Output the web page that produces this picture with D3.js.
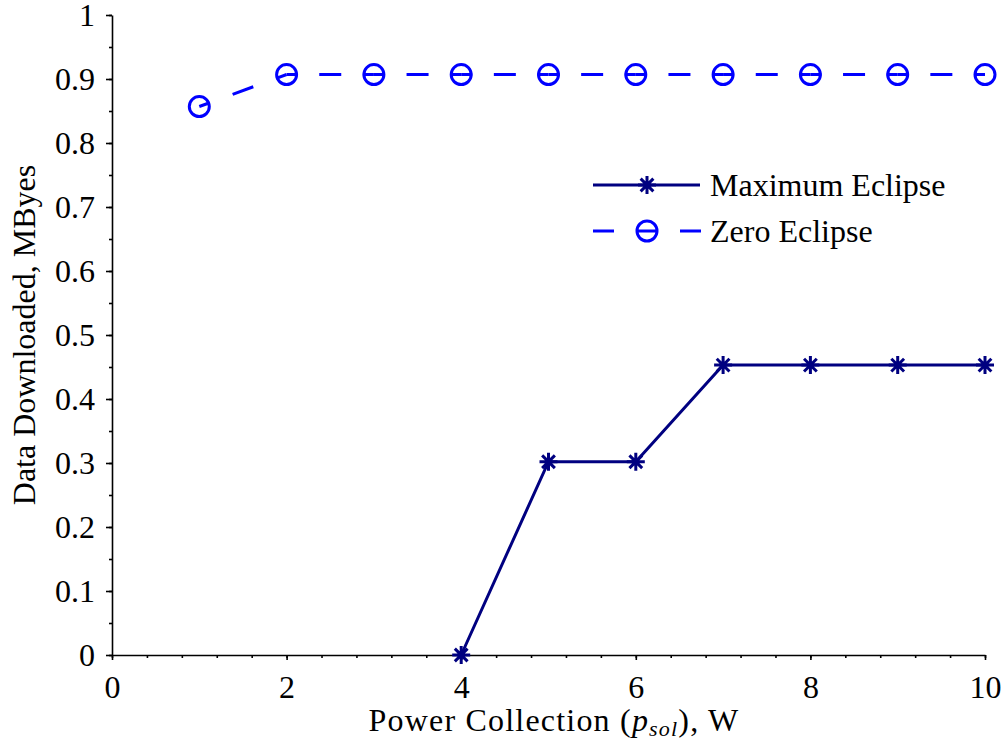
<!DOCTYPE html>
<meta charset="utf-8">
<title>Data Downloaded vs Power Collection</title>
<script src="https://d3js.org/d3.v7.min.js"></script>
<style>
  body { margin: 0; background: #fff; }
  text { font-family: "Liberation Serif", "Times New Roman", serif; fill: #000; }
</style>
<body>
<div id="chart"></div>
<script>

// data
var power = [1, 2, 3, 4, 5, 6, 7, 8, 9, 10]
var maxEclipseX = [4, 5, 6, 7, 8, 9, 10]
var maxEclipse = [0, 0.302, 0.302, 0.453, 0.453, 0.453, 0.453]
var zeroEclipse = [0.857, 0.907, 0.907, 0.907, 0.907, 0.907, 0.907, 0.907, 0.907, 0.907]
var xTicks = [0, 2, 4, 6, 8, 10]
var yTicks = [0, 0.1, 0.2, 0.3, 0.4, 0.5, 0.6, 0.7, 0.8, 0.9, 1]
var seriesNames = ["Maximum Eclipse", "Zero Eclipse"]

var W = 1007, H = 749
var svg = d3.select("#chart").append("svg")
    .attr("width", W).attr("height", H)

var x = d3.scaleLinear().domain([0, 10]).range([112, 985])
var y = d3.scaleLinear().domain([0, 1]).range([655, 15])

// minor ticks
var xMinor = d3.range(0, 10.001, 0.4)
var yMinor = d3.range(0, 1.0001, 0.05)

svg.append("g")
    .attr("transform", "translate(0,655)")
    .call(d3.axisBottom(x).tickValues(xMinor).tickSize(3).tickFormat(""))
    .call(g => g.select(".domain").remove())
svg.append("g")
    .attr("transform", "translate(112,0)")
    .call(d3.axisLeft(y).tickValues(yMinor).tickSize(3).tickFormat(""))
    .call(g => g.select(".domain").remove())

var xAxis = svg.append("g")
    .attr("transform", "translate(0,655)")
    .call(d3.axisBottom(x).tickValues(xTicks).tickSize(5).tickSizeOuter(0).tickPadding(15).tickFormat(d3.format("d")))
var yAxis = svg.append("g")
    .attr("transform", "translate(112,0)")
    .call(d3.axisLeft(y).tickValues(yTicks).tickSize(6).tickSizeOuter(0).tickPadding(11)
      .tickFormat(function(d) { return d === 0 || d === 1 ? d3.format("d")(d) : d3.format(".1f")(d) }))

svg.selectAll(".domain, .tick line").attr("stroke", "#000").attr("stroke-width", 1.6)
svg.selectAll(".tick text")
    .style("font-family", "'Liberation Serif', serif")
    .style("font-size", "32px")
    .attr("fill", "#000")
yAxis.selectAll(".tick text").attr("dy", "0.34em")

// axis labels
svg.append("text")
    .attr("transform", "translate(35,335) rotate(-90)")
    .attr("text-anchor", "middle")
    .style("font-size", "32px")
    .text("Data Downloaded, MByes")

var xl = svg.append("text")
    .attr("x", 554).attr("y", 731)
    .attr("text-anchor", "middle")
    .style("font-size", "32px")
    .style("letter-spacing", "1.2px")
xl.append("tspan").text("Power Collection (")
xl.append("tspan").style("font-style", "italic").text("p")
xl.append("tspan").style("font-style", "italic").style("font-size", "22px").attr("dy", 5).text("sol")
xl.append("tspan").attr("dy", -5).text("), W")

var navy = "#000080", blue = "#0000ff"

function star(g, size) {
  var r = size / 2, d = r * Math.SQRT1_2
  g.append("path")
    .attr("d", "M" + (-r) + ",0L" + r + ",0M0," + (-r) + "L0," + r +
               "M" + (-d) + "," + (-d) + "L" + d + "," + d + "M" + (-d) + "," + d + "L" + d + "," + (-d))
    .attr("stroke", navy).attr("stroke-width", 3).attr("fill", "none")
}
function circ(g) {
  g.append("circle").attr("r", 10)
    .attr("stroke", blue).attr("stroke-width", 3).attr("fill", "none")
}

var maxData = maxEclipseX.map(function(v, i) { return [v, maxEclipse[i]] })
var zeroData = power.map(function(v, i) { return [v, zeroEclipse[i]] })
var line = d3.line().x(function(d) { return x(d[0]) }).y(function(d) { return y(d[1]) })

svg.append("path").datum(maxData).attr("d", line)
    .attr("fill", "none").attr("stroke", navy).attr("stroke-width", 3)

// dashed line drawn per segment so a dash sits centred on every point
var segs = d3.pairs(zeroData)
svg.selectAll(".seg").data(segs).enter().append("path")
    .attr("d", function(d) { return line(d) })
    .attr("fill", "none").attr("stroke", blue).attr("stroke-width", 3)
    .each(function(d) {
      var dx = x(d[1][0]) - x(d[0][0]), dy = y(d[1][1]) - y(d[0][1])
      var L = Math.sqrt(dx * dx + dy * dy)
      var n = Math.max(1, Math.round(L / 43.6))
      var period = L / n, dash = 22
      d3.select(this)
        .attr("stroke-dasharray", dash + "," + (period - dash))
        .attr("stroke-dashoffset", dash / 2)
    })

svg.selectAll(".starpt").data(maxData).enter().append("g")
    .attr("transform", function(d) { return "translate(" + x(d[0]) + "," + y(d[1]) + ")" })
    .each(function() { star(d3.select(this), 18) })
svg.selectAll(".circpt").data(zeroData).enter().append("g")
    .attr("transform", function(d) { return "translate(" + x(d[0]) + "," + y(d[1]) + ")" })
    .each(function() { circ(d3.select(this)) })

// legend
var leg = svg.append("g")
leg.append("line").attr("x1", 593).attr("x2", 700).attr("y1", 185).attr("y2", 185)
    .attr("stroke", navy).attr("stroke-width", 3)
star(leg.append("g").attr("transform", "translate(647,185)"), 18)
leg.append("line").attr("x1", 593).attr("x2", 701).attr("y1", 231).attr("y2", 231)
    .attr("stroke", blue).attr("stroke-width", 3).attr("stroke-dasharray", "21,22.5")
circ(leg.append("g").attr("transform", "translate(647,231)"))
leg.selectAll("text.lab").data(seriesNames).enter().append("text")
    .attr("x", 710).attr("y", function(d, i) { return 185 + i * 46 })
    .attr("dy", "0.35em")
    .style("font-size", "32px")
    .text(function(d) { return d })
</script>
</body>
